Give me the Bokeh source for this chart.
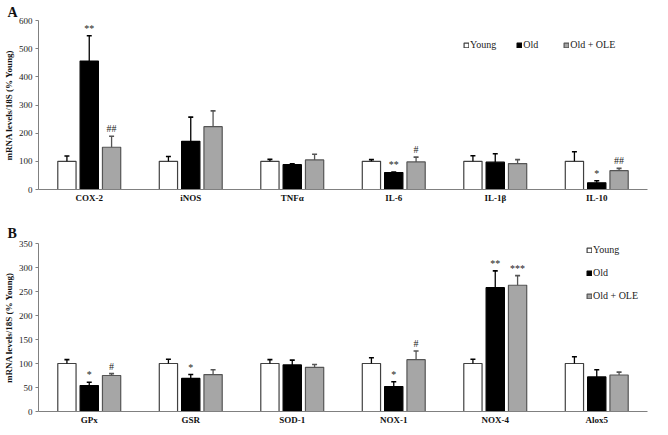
from bokeh.plotting import figure
from bokeh.models import (FactorRange, Range1d, Legend, LegendItem,
                          ColumnDataSource, SingleIntervalTicker)
from bokeh.transform import dodge
from bokeh.layouts import column
from bokeh.embed import file_html
from bokeh.resources import INLINE
from bokeh.core.properties import value

FONT = "Liberation Serif"

groups = ["Young", "Old", "Old + OLE"]

genes_a = ["COX-2", "iNOS", "TNFα", "IL-6", "IL-1β", "IL-10"]
young_a = [100, 100, 100, 100, 100, 100]
old_a = [456, 171, 88, 60, 97, 24]
ole_a = [150, 223, 105, 98, 92, 67]
young_a_err = [19, 17, 7, 6, 20, 34]
old_a_err = [90, 86, 3, 2, 30, 7]
ole_a_err = [39, 56, 20, 17, 14, 8]
old_a_sig = ["**", "", "", "**", "", "*"]
ole_a_sig = ["##", "", "", "#", "", "##"]

genes_b = ["GPx", "GSR", "SOD-1", "NOX-1", "NOX-4", "Alox5"]
young_b = [100, 100, 100, 100, 100, 100]
old_b = [54, 69, 97, 52, 258, 72]
ole_b = [75, 77, 92, 108, 263, 76]
young_b_err = [8, 9, 8, 12, 9, 14]
old_b_err = [7, 8, 10, 10, 35, 15]
ole_b_err = [4, 10, 6, 18, 20, 6]
old_b_sig = ["*", "*", "", "*", "**", ""]
ole_b_sig = ["#", "", "", "#", "***", ""]

y_label = "mRNA levels/18S (% Young)"


def panel(letter, genes, young, old, ole, ye, oe, le, osig, lsig,
          ymax, yint, height, border_top, border_bottom, title_standoff,
          legend_kw):
    src = ColumnDataSource(dict(
        cat=genes, young=young, old=old, ole=ole,
        young_hi=[v + e for v, e in zip(young, ye)],
        old_hi=[v + e for v, e in zip(old, oe)],
        ole_hi=[v + e for v, e in zip(ole, le)],
        old_sig=osig, ole_sig=lsig,
    ))
    p = figure(x_range=FactorRange(*genes, range_padding=0),
               y_range=Range1d(0, ymax), width=668, height=height,
               output_backend="svg", toolbar_location=None,
               min_border_left=37, min_border_right=21,
               min_border_top=border_top, min_border_bottom=border_bottom)
    p.outline_line_color = None
    p.xgrid.grid_line_color = None
    p.ygrid.grid_line_color = None

    p.title.text = letter
    p.title.align = "left"
    p.title.offset = -31
    p.title.standoff = title_standoff
    p.title.text_font = FONT
    p.title.text_font_style = "bold"
    p.title.text_font_size = "14px"
    p.title.text_color = "#111111"

    off = 0.22
    w = 0.18
    specs = [
        ("young", -off, "white", "#404040", "#000000"),
        ("old", 0.0, "#000000", "#000000", "#000000"),
        ("ole", off, "#a6a6a6", "#555555", "#555555"),
    ]
    rends = []
    for key, dx, fill, line, ecol in specs:
        xs = dodge("cat", dx, range=p.x_range)
        r = p.vbar(x=xs, top=key, width=w, source=src, fill_color=fill,
                   line_color=line, line_width=1.2)
        rends.append(r)
        p.segment(x0=xs, y0=key, x1=xs, y1=key + "_hi", source=src,
                  line_color=ecol, line_width=1.3)
        p.scatter(x=xs, y=key + "_hi", source=src, marker="dash", size=5,
                  line_color=ecol, line_width=1.6)
    for key, dx in (("old", 0.0), ("ole", off)):
        p.text(x=dodge("cat", dx, range=p.x_range), y=key + "_hi",
               text=key + "_sig", source=src, text_align="center",
               text_baseline="bottom", y_offset=-2,
               text_font=value(FONT), text_font_size="10px",
               text_color="#222222")

    p.xaxis.major_tick_line_color = None
    p.xaxis.major_tick_out = 0
    p.xaxis.major_tick_in = 0
    p.xaxis.minor_tick_line_color = None
    p.xaxis.axis_line_color = "#808080"
    p.xaxis.major_label_text_font = FONT
    p.xaxis.major_label_text_font_style = "bold"
    p.xaxis.major_label_text_font_size = "9px"
    p.xaxis.major_label_text_color = "#111111"
    p.xaxis.major_label_standoff = 3

    p.yaxis.ticker = SingleIntervalTicker(interval=yint)
    p.yaxis.minor_tick_line_color = None
    p.yaxis.major_tick_in = 0
    p.yaxis.major_tick_out = 3
    p.yaxis.major_tick_line_color = "#808080"
    p.yaxis.axis_line_color = "#808080"
    p.yaxis.major_label_text_font = FONT
    p.yaxis.major_label_text_font_size = "9px"
    p.yaxis.major_label_text_color = "#222222"
    p.yaxis.major_label_standoff = 2
    p.yaxis.axis_label = y_label
    p.yaxis.axis_label_text_font = FONT
    p.yaxis.axis_label_text_font_style = "bold"
    p.yaxis.axis_label_text_font_size = "9px"
    p.yaxis.axis_label_text_color = "#111111"
    p.yaxis.axis_label_standoff = 2

    items = [LegendItem(label=g, renderers=[r]) for g, r in zip(groups, rends)]
    legend = Legend(items=items, glyph_width=6, glyph_height=6,
                    label_text_font=FONT, label_text_font_size="10px",
                    label_text_color="#222222", label_standoff=1,
                    padding=0, margin=0, border_line_color=None,
                    background_fill_alpha=0, label_height=10, **legend_kw)
    p.add_layout(legend)
    return p


pa = panel("A", genes_a, young_a, old_a, ole_a, young_a_err, old_a_err,
           ole_a_err, old_a_sig, ole_a_sig, 600, 100, 208, 20, 19, 2,
           dict(orientation="horizontal", location=(425, 139), spacing=20))
pb = panel("B", genes_b, young_b, old_b, ole_b, young_b_err, old_b_err,
           ole_b_err, old_b_sig, ole_b_sig, 350, 50, 227, 35, 24, 5,
           dict(orientation="vertical", location=(548, 110), spacing=12))

layout = column(pa, pb, spacing=0)
open("out.html", "w").write(file_html(layout, INLINE))
